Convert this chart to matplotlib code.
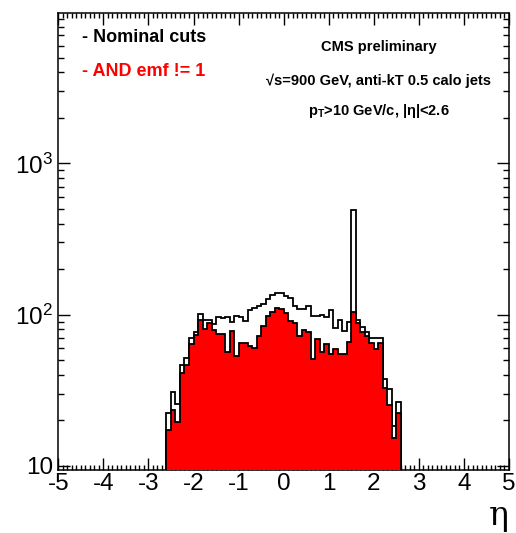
import numpy as np
import matplotlib
matplotlib.use("Agg")
import matplotlib.pyplot as plt
from matplotlib.ticker import FuncFormatter, LogLocator, NullFormatter, MultipleLocator

plt.rcParams['font.family'] = ['Liberation Sans', 'DejaVu Sans']
plt.rcParams['mathtext.fontset'] = 'custom'
plt.rcParams['mathtext.rm'] = 'Liberation Sans'
plt.rcParams['mathtext.bf'] = 'Liberation Sans:bold'
plt.rcParams['mathtext.it'] = 'Liberation Sans:italic'

# binning
eta_min, eta_max, n_bins = -2.6, 2.6, 52

# jet counts per eta bin (nominal cuts)
nominal = [22.5, 30.9, 25.5, 46.2, 51.3, 70.2, 76.9, 100.5, 92.4, 92.4,
           86.9, 96.7, 95.2, 96.7, 89.6, 98.6, 96.7, 90.6, 108.0, 110.9,
           113.5, 118.4, 127.2, 135.2, 139.4, 138.3, 133.0, 129.1, 114.3, 109.2,
           109.2, 113.8, 97.7, 98.2, 99.2, 96.7, 107.1, 82.2, 91.9, 78.2,
           89.6, 493.0, 92.4, 82.7, 77.3, 70.2, 69.7, 69.7, 37.4, 32.1,
           18.5, 26.5]
# jet counts per eta bin (nominal AND emf != 1)
emf_cut = [17.3, 23.5, 19.4, 40.9, 46.8, 63.8, 73.0, 92.4, 80.5, 87.6,
           79.3, 75.0, 75.0, 56.5, 77.8, 53.2, 65.1, 65.1, 61.9, 60.3,
           72.4, 84.3, 98.2, 103.9, 110.1, 108.4, 102.8, 91.0, 88.3, 72.1,
           79.0, 76.6, 50.8, 68.9, 56.2, 63.8, 54.8, 59.1, 54.8, 55.1,
           65.6, 104.4, 88.3, 76.9, 72.4, 65.4, 59.7, 64.6, 32.8, 25.1,
           15.4, 22.5]

edges = np.linspace(eta_min, eta_max, n_bins + 1)

fig = plt.figure(figsize=(5.16, 5.33), dpi=100)
ax = fig.add_axes([0.113, 0.1182, 0.8734, 0.8568])

ax.stairs(nominal, edges, baseline=1e-3, fill=True, facecolor='white',
          edgecolor='black', linewidth=1.3, zorder=2)
ax.stairs(emf_cut, edges, baseline=1e-3, fill=True, facecolor='#ff0000',
          edgecolor='black', linewidth=1.3, zorder=3)

ax.set_yscale('log')
ax.set_xlim(-5, 5)
ax.set_ylim(9.4, 9800)

ax.xaxis.set_major_locator(MultipleLocator(1))
ax.xaxis.set_minor_locator(MultipleLocator(0.1))
ax.xaxis.set_major_formatter(FuncFormatter(lambda v, p: f"{int(round(v))}"))

def yfmt(v, p):
    e = int(round(np.log10(v)))
    if e == 1:
        return "10"
    return r"$\mathregular{10^{%d}}$" % e

ax.yaxis.set_major_locator(LogLocator(base=10, numticks=10))
ax.yaxis.set_minor_locator(LogLocator(base=10, subs=np.arange(2, 10), numticks=20))
ax.yaxis.set_major_formatter(FuncFormatter(yfmt))
ax.yaxis.set_minor_formatter(NullFormatter())

ax.tick_params(which='both', direction='in', top=True, right=True, width=1.0)
ax.tick_params(which='major', length=8.5, labelsize=17.5)
ax.tick_params(axis='x', which='major', pad=2)
ax.tick_params(axis='y', which='major', pad=4)
ax.tick_params(axis='x', which='minor', length=3.8)
ax.tick_params(axis='y', which='minor', length=4.5)
for s in ax.spines.values():
    s.set_linewidth(1.1)

ax.text(1.0, -0.12, "η", transform=ax.transAxes, ha='right', va='baseline',
        fontsize=24, family=['DejaVu Serif'])

ax.text(0.053, 0.947, "- Nominal cuts", transform=ax.transAxes, ha='left', va='center',
        fontsize=13, fontweight='bold', color='black')
ax.text(0.053, 0.872, "- AND emf != 1", transform=ax.transAxes, ha='left', va='center',
        fontsize=13, fontweight='bold', color='#ff0000')

ax.text(0.711, 0.927, "CMS preliminary", transform=ax.transAxes, ha='center', va='center',
        fontsize=10.5, fontweight='bold')
ax.text(0.711, 0.853, "√s=900 GeV, anti-kT 0.5 calo jets", transform=ax.transAxes,
        ha='center', va='center', fontsize=10.5, fontweight='bold')
ax.text(0.711, 0.787, r"p$\mathbf{_T}$>10 GeV/c, |η|<2.6", transform=ax.transAxes,
        ha='center', va='center', fontsize=10.5, fontweight='bold')

fig.savefig("out.png", dpi=100)
